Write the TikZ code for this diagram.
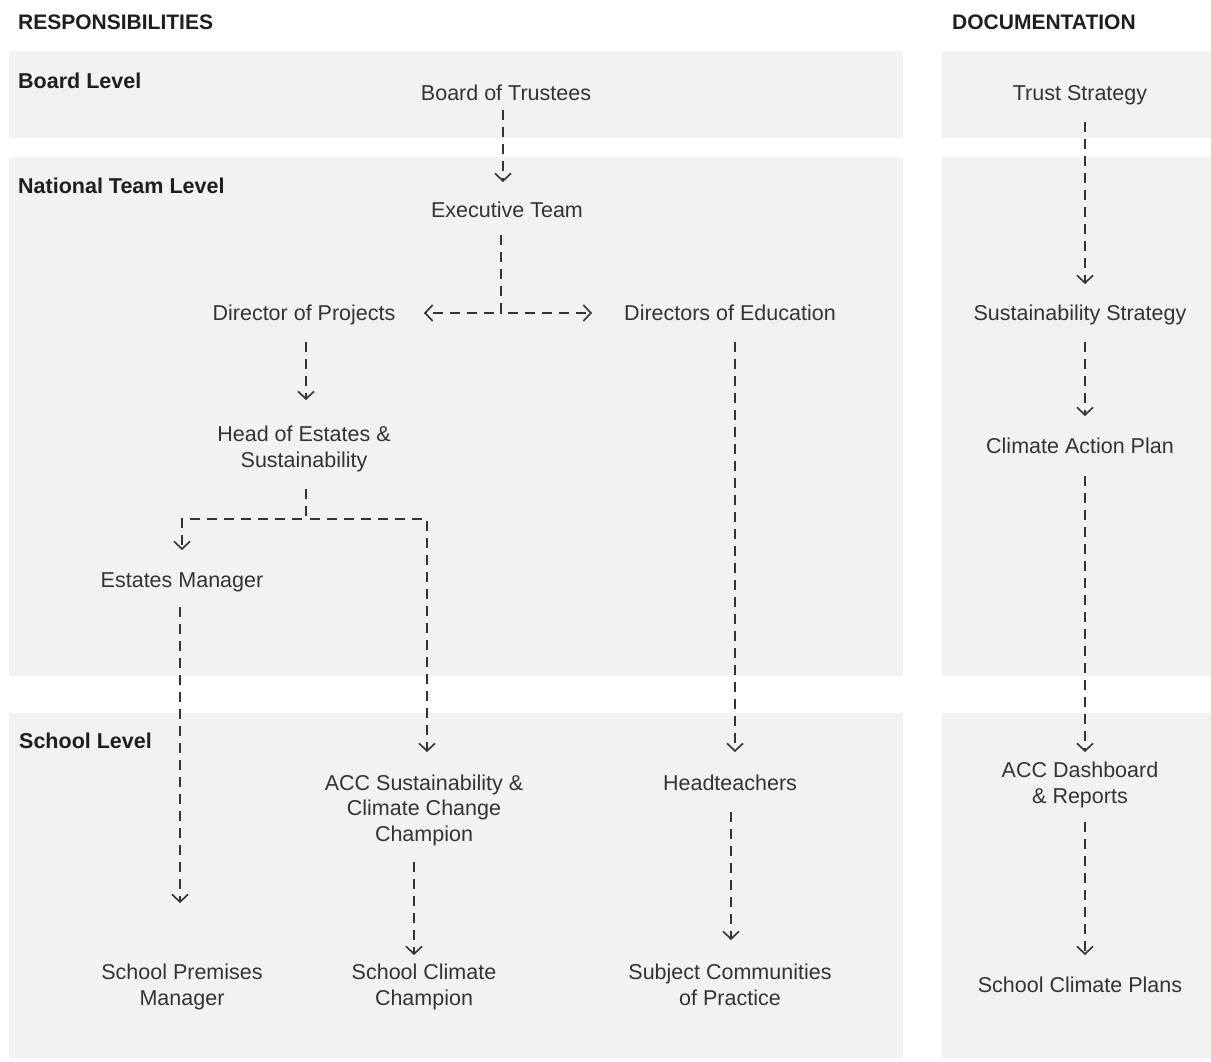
\documentclass[tikz,border=0pt]{standalone}
\usepackage{fontspec}
\setmainfont{Liberation Sans}
\usetikzlibrary{arrows.meta}
\definecolor{panel}{HTML}{F2F2F2}
\definecolor{ink}{HTML}{333333}
\definecolor{inkdark}{HTML}{1E1E1E}
\begin{document}
\begin{tikzpicture}[x=1pt,y=-1pt,
  lbl/.style={font=\fontsize{21.5}{25.5}\selectfont, text=ink, inner sep=0pt, align=center, anchor=center},
  lbla/.style={lbl, text height=15.7pt, text depth=0pt},
  lvl/.style={font=\bfseries\fontsize{21.5}{25.5}\selectfont, text=inkdark, inner sep=0pt, anchor=base west},
  hdr/.style={font=\bfseries\fontsize{21}{25}\selectfont, text=inkdark, inner sep=0pt, anchor=base west},
  band/.style={fill=panel, draw=none},
  conn/.style={draw=ink, line width=1.6pt, dash pattern=on 10pt off 7pt, -{Straight Barb[length=7.5pt,width=16pt,line width=1.6pt]}}
]
\useasboundingbox (0,0) rectangle (1211,1061);
% panels
\path[band] (9,51) rectangle (903,138);
\path[band] (9,157) rectangle (903,676);
\path[band] (9,713) rectangle (903,1058);
\path[band] (942,51) rectangle (1211,138);
\path[band] (942,157) rectangle (1211,676);
\path[band] (942,713) rectangle (1211,1058);
% headers
\node[hdr] (hresp) at (18,29) {RESPONSIBILITIES};
\node[hdr] (hdoc) at (952,29) {DOCUMENTATION};
\node[lvl] (lboard) at (18,88) {Board Level};
\node[lvl] (lnat) at (18,193) {National Team Level};
\node[lvl] (lschool) at (19,748) {School Level};
% nodes
\node[lbla] (bt) at (506,93) {Board of Trustees};
\node[lbla] (ex) at (507,210) {Executive Team};
\node[lbla] (dp) at (304,313) {Director of Projects};
\node[lbla] (de) at (730,313) {Directors of Education};
\node[lbl] (hes) at (304,449) {Head of Estates \&\\Sustainability};
\node[lbla] (em) at (182,580) {Estates Manager};
\node[lbl] (acc) at (424,810) {ACC Sustainability \&\\Climate Change\\Champion};
\node[lbla] (ht) at (730,783) {Headteachers};
\node[lbl] (spm) at (182,987) {School Premises\\Manager};
\node[lbl] (scc) at (424,987) {School Climate\\Champion};
\node[lbl] (scp) at (730,985) {Subject Communities\\of Practice};
\node[lbla] (ts) at (1080,93) {Trust Strategy};
\node[lbla] (ss) at (1080,313) {Sustainability Strategy};
\node[lbla] (cap) at (1080,446) {Climate Action Plan};
\node[lbl] (dash) at (1080,785) {ACC Dashboard\\\& Reports};
\node[lbla] (scpl) at (1080,985) {School Climate Plans};
% connectors
\draw[conn] ([shift={(-3,17)}]bt.center) -- ([shift={(-4,-28)}]ex.center);
\draw[conn] ([shift={(-6,25)}]ex.center) |- ([shift={(120,0)}]dp.center);
\draw[conn] ([shift={(-6,25)}]ex.center) |- ([shift={(-138,0)}]de.center);
\draw[conn] ([shift={(2,29)}]dp.center) -- ([shift={(2,-49)}]hes.center);
\draw[conn] ([shift={(2,40)}]hes.center) -- ++(0,30) -| ([shift={(0,-30)}]em.center);
\draw[conn] ([shift={(2,40)}]hes.center) -- ++(0,30) -| ([shift={(3,-58)}]acc.center);
\draw[conn] ([shift={(-2,27)}]em.center) -- ([shift={(-2,-84)}]spm.center);
\draw[conn] ([shift={(-10,52)}]acc.center) -- ([shift={(-10,-32)}]scc.center);
\draw[conn] ([shift={(5,29)}]de.center) -- ([shift={(5,-31)}]ht.center);
\draw[conn] ([shift={(1,29)}]ht.center) -- ([shift={(1,-45)}]scp.center);
\draw[conn] ([shift={(5,29)}]ts.center) -- ([shift={(5,-29)}]ss.center);
\draw[conn] ([shift={(5,29)}]ss.center) -- ([shift={(5,-30)}]cap.center);
\draw[conn] ([shift={(5,30)}]cap.center) -- ([shift={(5,-33)}]dash.center);
\draw[conn] ([shift={(5,37)}]dash.center) -- ([shift={(5,-30)}]scpl.center);
\end{tikzpicture}
\end{document}
